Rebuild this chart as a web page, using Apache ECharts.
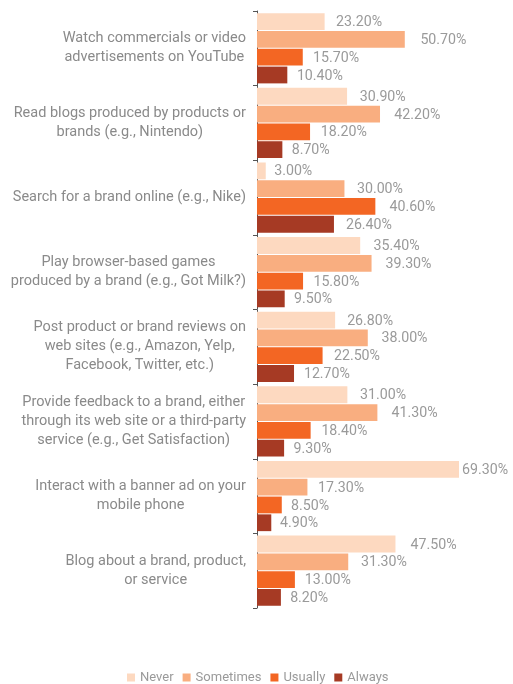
<!DOCTYPE html>
<html>
<head>
<meta charset="utf-8">
<script src="https://cdn.jsdelivr.net/npm/echarts@6/dist/echarts.min.js"></script>
<style>
  html, body { margin: 0; padding: 0; background: #fff; }
  #chart { width: 513px; height: 684px; }
</style>
</head>
<body>
<div id="chart"></div>
<script>
// Activities (one group of bars each), top to bottom
const categories = [
  'Watch commercials or video\nadvertisements on YouTube',
  'Read blogs produced by products or\nbrands (e.g., Nintendo)',
  'Search for a brand online (e.g., Nike)',
  'Play browser-based games\nproduced by a brand (e.g., Got Milk?)',
  'Post product or brand reviews on\nweb sites (e.g., Amazon, Yelp,\nFacebook, Twitter, etc.)',
  'Provide feedback to a brand, either\nthrough its web site or a third-party\nservice (e.g., Get Satisfaction)',
  'Interact with a banner ad on your\nmobile phone',
  'Blog about a brand, product,\nor service'
];

// Share of respondents (%) per frequency
const never     = [23.2, 30.9, 3.0, 35.4, 26.8, 31.0, 69.3, 47.5];
const sometimes = [50.7, 42.2, 30.0, 39.3, 38.0, 41.3, 17.3, 31.3];
const usually   = [15.7, 18.2, 40.6, 15.8, 22.5, 18.4, 8.5, 13.0];
const always    = [10.4, 8.7, 26.4, 9.5, 12.7, 9.3, 4.9, 8.2];

const seriesNames = ['Never', 'Sometimes', 'Usually', 'Always'];
const seriesData = [never, sometimes, usually, always];
const colors = ['#FDD9C0', '#F9AE80', '#F36623', '#A63A24'];

const fontFamily = 'Roboto, "DejaVu Sans", sans-serif';

// Plot geometry: value axis runs 0..80 across the grid width
const gridLeft = 257;
const gridWidth = 233.2;
const xMax = 80;
const pxPerUnit = gridWidth / xMax;
const labelWidth = 48;
const chartRight = 510;

// Value labels drift a little further out for longer bars,
// but are pulled back so they never run past the chart edge.
function labelDistance(v) {
  const wanted = 8 + 0.15 * v;
  const room = chartRight - labelWidth - (gridLeft + v * pxPerUnit);
  return Math.max(2, Math.min(wanted, room));
}

const chart = echarts.init(document.getElementById('chart'), null, { renderer: 'canvas' });

chart.setOption({
  animation: false,
  backgroundColor: '#ffffff',
  color: colors,
  grid: { left: gridLeft, top: 11, width: gridWidth, height: 597 },
  legend: {
    top: 666,
    left: 122,
    itemWidth: 8,
    itemHeight: 8,
    itemGap: 9,
    icon: 'rect',
    textStyle: { color: '#9a9a9a', fontSize: 13, fontFamily: fontFamily },
    data: seriesNames
  },
  xAxis: {
    type: 'value',
    min: 0,
    max: xMax,
    show: false,
    splitLine: { show: false }
  },
  yAxis: {
    type: 'category',
    inverse: true,
    data: categories,
    axisLine: { show: true, lineStyle: { color: '#555555', width: 1 } },
    axisTick: { show: true, length: 4, lineStyle: { color: '#555555' } },
    axisLabel: {
      margin: 11,
      align: 'right',
      color: '#8a8a8a',
      fontSize: 14.5,
      fontFamily: fontFamily,
      lineHeight: 19,
      formatter: function (v) {
        return v.split('\n').map(function (line) { return '{c|' + line + '}'; }).join('\n');
      },
      rich: {
        c: { align: 'center', color: '#8a8a8a', fontSize: 14.5, fontFamily: fontFamily, lineHeight: 19 }
      }
    }
  },
  series: seriesNames.map(function (name, i) {
    return {
      name: name,
      type: 'bar',
      barCategoryGap: '6%',
      barGap: '6%',
      data: seriesData[i].map(function (v) {
        return { value: v, label: { distance: labelDistance(v) } };
      }),
      label: {
        show: true,
        position: 'right',
        offset: [0, 1],
        color: '#9a9a9a',
        fontSize: 14.2,
        fontFamily: fontFamily,
        formatter: function (p) { return p.value.toFixed(2) + '%'; }
      }
    };
  })
});
</script>
</body>
</html>
